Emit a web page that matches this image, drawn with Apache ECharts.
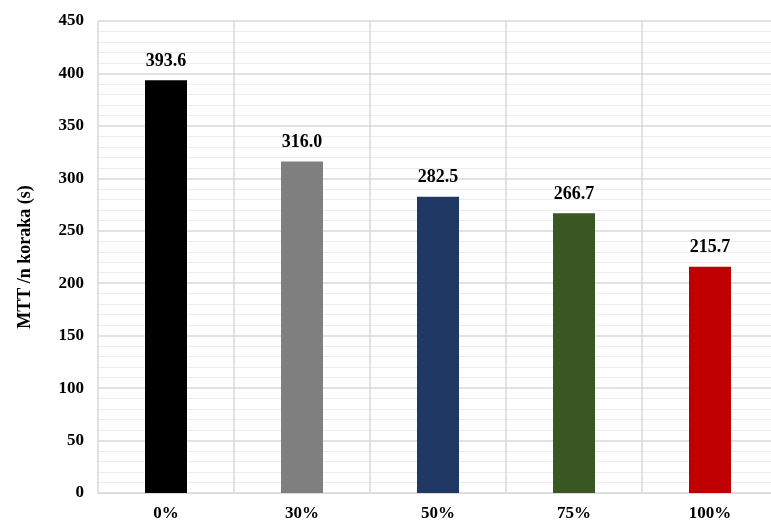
<!DOCTYPE html>
<html><head><meta charset="utf-8">
<script src="https://cdn.jsdelivr.net/npm/echarts@6/dist/echarts.min.js"></script>
<style>html,body{margin:0;background:#fff;overflow:hidden}#c{width:780px;height:527px}</style>
</head><body><div id="c"></div>
<script>
const categories = ['0%', '30%', '50%', '75%', '100%'];
const values = [393.6, 316.0, 282.5, 266.7, 215.7];
const colors = ['#000000', '#7f7f7f', '#1f3864', '#385723', '#c00000'];
const font = 'Liberation Serif';

const chart = echarts.init(document.getElementById('c'));
chart.setOption({
  animation: false,
  grid: { left: 98, right: 2, top: 21, bottom: 34 },
  xAxis: {
    type: 'category', data: categories,
    axisLine: { lineStyle: { color: '#d9d9d9' } },
    axisTick: { show: false },
    axisLabel: { color: '#000', fontFamily: font, fontWeight: 'bold', fontSize: 17, margin: 12 },
    splitLine: { show: true, lineStyle: { color: '#d9d9d9', width: 1.5 } }
  },
  yAxis: {
    type: 'value', min: 0, max: 450, interval: 50,
    name: 'MTT /n koraka (s)', nameLocation: 'middle', nameGap: 64,
    nameTextStyle: { color: '#000', fontFamily: font, fontWeight: 'bold', fontSize: 18 },
    axisLabel: { color: '#000', fontFamily: font, fontWeight: 'bold', fontSize: 17, margin: 14 },
    axisLine: { show: false }, axisTick: { show: false },
    splitLine: { lineStyle: { color: '#d9d9d9', width: 1.5 } },
    minorTick: { show: false, splitNumber: 5 },
    minorSplitLine: { show: true, lineStyle: { color: '#ececec', width: 1 } }
  },
  series: [{
    type: 'bar', barWidth: 42,
    data: values.map((v, i) => ({ value: v, itemStyle: { color: colors[i] } })),
    label: {
      show: true, position: 'top', distance: 10, color: '#000',
      fontFamily: font, fontWeight: 'bold', fontSize: 18,
      formatter: p => p.value.toFixed(1)
    }
  }]
});
</script></body></html>
